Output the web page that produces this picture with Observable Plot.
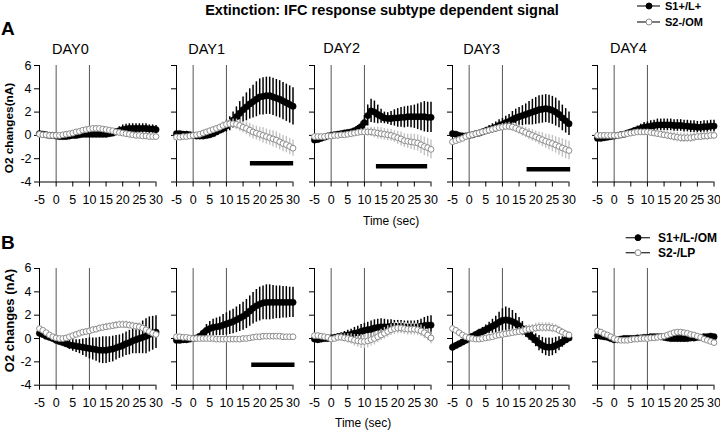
<!DOCTYPE html>
<html><head><meta charset="utf-8">
<script src="https://cdn.jsdelivr.net/npm/d3@7"></script>
<script src="https://cdn.jsdelivr.net/npm/@observablehq/plot@0.6"></script>
<style>
body{margin:0;background:#fff;}
#chart{position:relative;width:720px;height:431px;overflow:hidden;font-family:"Liberation Sans",Arial,sans-serif;background:#fff;}
#chart svg{position:absolute;}
</style></head><body><div id="chart"></div><script>
// ---------------- DATA ----------------
const title = "Extinction: IFC response subtype dependent signal";
const days = ["DAY0","DAY1","DAY2","DAY3","DAY4"];
const rowNames = ["A","B"];
const seriesA = ["S1+/L+","S2-/OM"];
const seriesB = ["S1+/L-/OM","S2-/LP"];
const yLabelA = "O2 changes(nA)";
const yLabelB = "O2 changes (nA)";
const xLabel = "Time (sec)";
const xTicks = [-5,0,5,10,15,20,25,30];
const yTicks = [-4,-2,0,2,4,6];
const eventLines = [0,10];
const time = [-5,-4,-3,-2,-1,0,1,2,3,4,5,6,7,8,9,10,11,12,13,14,15,16,17,18,19,20,21,22,23,24,25,26,27,28,29,30];

// Row A
const A_DAY0_S1     = [0.15,0.1,0.05,0,0, -0.05,-0.1,-0.1,-0.1,-0.05, 0,0,0.05,0.1,0.1, 0.1,0.1,0.1,0.1,0.1, 0.1,0.15,0.2,0.3,0.4, 0.5,0.55,0.6,0.6,0.6, 0.6,0.6,0.6,0.55,0.55, 0.5];
const A_DAY0_S1_err = [0.15,0.1,0.1,0.1,0.05, 0.05,0.05,0.05,0.05,0.05, 0.1,0.1,0.1,0.1,0.15, 0.15,0.15,0.15,0.15,0.15, 0.15,0.2,0.25,0.3,0.35, 0.4,0.4,0.4,0.4,0.4, 0.4,0.4,0.4,0.35,0.35, 0.35];
const A_DAY0_S2     = [0.1,0.05,0.05,0,0, 0,0,0.05,0.1,0.15, 0.2,0.3,0.35,0.45,0.5, 0.55,0.6,0.6,0.6,0.55, 0.5,0.45,0.4,0.3,0.25, 0.2,0.15,0.1,0.05,0, 0,-0.05,-0.05,-0.1,-0.1, -0.1];
const A_DAY0_S2_err = [0.1,0.1,0.1,0.1,0.1, 0.05,0.05,0.1,0.1,0.1, 0.1,0.1,0.15,0.15,0.15, 0.15,0.15,0.15,0.15,0.15, 0.15,0.15,0.15,0.15,0.15, 0.15,0.15,0.1,0.1,0.1, 0.1,0.1,0.1,0.1,0.1, 0.1];

const A_DAY1_S1     = [0.15,0.15,0.1,0.1,0.05, 0,-0.05,-0.05,-0.05,0, 0.05,0.15,0.3,0.45,0.6, 0.8,1.0,1.3,1.6,1.9, 2.2,2.45,2.7,2.9,3.1, 3.3,3.35,3.4,3.4,3.3, 3.2,3.1,2.95,2.8,2.65, 2.5];
const A_DAY1_S1_err = [0.1,0.1,0.1,0.1,0.1, 0.05,0.05,0.05,0.1,0.1, 0.15,0.2,0.25,0.3,0.4, 0.5,0.6,0.7,0.85,1.0, 1.1,1.2,1.3,1.4,1.5, 1.55,1.6,1.6,1.6,1.6, 1.6,1.6,1.6,1.6,1.6, 1.6];
const A_DAY1_S2     = [-0.15,-0.15,-0.1,-0.1,-0.05, 0,0.05,0.1,0.2,0.3, 0.4,0.5,0.6,0.7,0.85, 0.95,1.0,1.0,0.95,0.85, 0.7,0.6,0.45,0.3,0.2, 0.1,0,-0.1,-0.2,-0.3, -0.4,-0.55,-0.7,-0.8,-0.95, -1.1];
const A_DAY1_S2_err = [0.1,0.1,0.1,0.1,0.1, 0.1,0.1,0.1,0.1,0.1, 0.15,0.15,0.2,0.25,0.3, 0.3,0.35,0.4,0.45,0.5, 0.5,0.55,0.6,0.6,0.6, 0.6,0.65,0.65,0.65,0.7, 0.7,0.7,0.7,0.7,0.7, 0.7];

const A_DAY2_S1     = [-0.4,-0.35,-0.25,-0.15,-0.05, 0,0.05,0.1,0.15,0.2, 0.25,0.3,0.4,0.55,0.75, 1.1,1.7,2.1,2.0,1.8, 1.65,1.5,1.45,1.45,1.5, 1.5,1.55,1.55,1.6,1.6, 1.6,1.6,1.6,1.6,1.55, 1.55];
const A_DAY2_S1_err = [0.15,0.1,0.1,0.1,0.1, 0.1,0.1,0.1,0.1,0.1, 0.1,0.15,0.2,0.3,0.4, 0.6,0.9,1.0,0.95,0.8, 0.6,0.5,0.5,0.6,0.7, 0.8,0.85,0.9,0.9,0.95, 1.0,1.1,1.2,1.3,1.3, 1.3];
const A_DAY2_S2     = [-0.1,-0.1,-0.1,-0.1,-0.05, -0.05,0,0,0.05,0.05, 0.1,0.15,0.2,0.25,0.3, 0.3,0.3,0.3,0.25,0.2, 0.15,0.1,0.05,0,-0.1, -0.2,-0.3,-0.45,-0.5,-0.55, -0.6,-0.65,-0.8,-0.95,-1.05, -1.2];
const A_DAY2_S2_err = [0.1,0.1,0.1,0.1,0.1, 0.1,0.1,0.1,0.1,0.1, 0.1,0.15,0.15,0.2,0.25, 0.3,0.35,0.4,0.45,0.5, 0.5,0.5,0.5,0.5,0.5, 0.55,0.6,0.6,0.6,0.65, 0.7,0.7,0.75,0.8,0.8, 0.8];

const A_DAY3_S1     = [0.15,0.1,0,-0.05,-0.05, 0,0.05,0.15,0.2,0.3, 0.4,0.5,0.6,0.7,0.85, 0.95,1.1,1.2,1.35,1.5, 1.6,1.7,1.8,1.9,2.0, 2.1,2.2,2.25,2.3,2.25, 2.15,2.0,1.8,1.5,1.25, 1.0];
const A_DAY3_S1_err = [0.2,0.1,0.1,0.1,0.1, 0.1,0.1,0.15,0.2,0.25, 0.3,0.35,0.4,0.45,0.5, 0.5,0.55,0.6,0.7,0.75, 0.8,0.85,0.9,1.0,1.1, 1.15,1.2,1.2,1.2,1.2, 1.2,1.2,1.15,1.1,1.05, 1.0];
const A_DAY3_S2     = [-0.55,-0.45,-0.35,-0.25,-0.1, 0,0.07,0.15,0.22,0.3, 0.37,0.45,0.52,0.6,0.67, 0.72,0.77,0.78,0.72,0.62, 0.5,0.38,0.25,0.12,0, -0.12,-0.25,-0.37,-0.5,-0.6, -0.7,-0.82,-0.95,-1.08,-1.2, -1.3];
const A_DAY3_S2_err = [0.1,0.1,0.1,0.1,0.1, 0.1,0.1,0.1,0.1,0.1, 0.15,0.15,0.2,0.2,0.25, 0.3,0.3,0.35,0.35,0.4, 0.4,0.45,0.45,0.5,0.5, 0.5,0.55,0.6,0.6,0.65, 0.7,0.7,0.75,0.8,0.8, 0.8];

const A_DAY4_S1     = [-0.25,-0.25,-0.2,-0.15,-0.1, -0.05,0,0.05,0.1,0.2, 0.3,0.4,0.5,0.6,0.7, 0.75,0.8,0.85,0.9,0.9, 0.9,0.9,0.9,0.85,0.85, 0.85,0.8,0.8,0.75,0.75, 0.7,0.7,0.75,0.75,0.8, 0.8];
const A_DAY4_S1_err = [0.05,0.05,0.05,0.05,0.05, 0.05,0.05,0.1,0.1,0.15, 0.2,0.25,0.3,0.35,0.4, 0.4,0.45,0.45,0.5,0.5, 0.5,0.5,0.5,0.5,0.5, 0.5,0.5,0.5,0.5,0.5, 0.5,0.5,0.5,0.5,0.5, 0.5];
const A_DAY4_S2     = [0,0,0,0,0, 0,0,0.05,0.1,0.15, 0.2,0.25,0.3,0.3,0.3, 0.3,0.25,0.2,0.15,0.1, 0.05,0,-0.05,-0.1,-0.15, -0.2,-0.2,-0.2,-0.2,-0.15, -0.1,-0.1,-0.05,-0.05,0, 0];
const A_DAY4_S2_err = [0.1,0.1,0.1,0.1,0.1, 0.1,0.1,0.1,0.1,0.1, 0.1,0.15,0.15,0.2,0.2, 0.2,0.25,0.25,0.3,0.3, 0.3,0.35,0.35,0.4,0.4, 0.4,0.4,0.4,0.4,0.4, 0.35,0.35,0.35,0.35,0.35, 0.3];

// Row B
const B_DAY0_S1     = [0.45,0.35,0.2,0.1,0, -0.15,-0.25,-0.35,-0.45,-0.55, -0.6,-0.65,-0.7,-0.75,-0.8, -0.85,-0.9,-0.95,-1.0,-1.0, -1.0,-0.95,-0.9,-0.8,-0.7, -0.6,-0.45,-0.35,-0.2,-0.1, 0,0.1,0.2,0.35,0.45, 0.55];
const B_DAY0_S1_err = [0.1,0.1,0.1,0.1,0.1, 0.1,0.15,0.2,0.3,0.4, 0.5,0.55,0.6,0.7,0.8, 0.9,0.95,1.0,1.1,1.15, 1.15,1.1,1.1,1.05,1.0, 1.0,1.0,1.05,1.1,1.2, 1.3,1.4,1.5,1.5,1.45, 1.4];
const B_DAY0_S2     = [0.85,0.7,0.5,0.3,0.15, 0.05,0,0,0.05,0.15, 0.25,0.35,0.45,0.55,0.6, 0.65,0.75,0.8,0.9,0.95, 1.0,1.05,1.1,1.15,1.2, 1.2,1.2,1.15,1.1,1.05, 1.0,0.9,0.75,0.6,0.45, 0.35];
const B_DAY0_S2_err = [0.15,0.15,0.15,0.15,0.15, 0.1,0.1,0.1,0.15,0.15, 0.2,0.2,0.2,0.2,0.2, 0.2,0.25,0.25,0.25,0.3, 0.3,0.3,0.3,0.3,0.3, 0.3,0.3,0.3,0.3,0.3, 0.3,0.3,0.25,0.25,0.2, 0.2];

const B_DAY1_S1     = [-0.15,-0.15,-0.1,-0.1,-0.05, 0,0.05,0.2,0.45,0.7, 0.85,0.95,1.0,1.05,1.15, 1.25,1.35,1.45,1.6,1.75, 1.9,2.1,2.35,2.6,2.8, 2.95,3.05,3.1,3.1,3.1, 3.1,3.1,3.1,3.1,3.1, 3.1];
const B_DAY1_S1_err = [0.1,0.1,0.1,0.1,0.1, 0.05,0.1,0.2,0.3,0.5, 0.6,0.7,0.75,0.8,0.9, 0.95,1.0,1.05,1.1,1.15, 1.2,1.25,1.3,1.35,1.4, 1.45,1.45,1.5,1.5,1.45, 1.4,1.4,1.35,1.35,1.3, 1.3];
const B_DAY1_S2     = [0.15,0.15,0.1,0.1,0.05, 0,0,0,0,0, 0,0,-0.05,-0.05,-0.05, -0.05,-0.05,-0.05,-0.05,-0.05, 0,0,0.05,0.1,0.15, 0.15,0.2,0.2,0.2,0.2, 0.2,0.2,0.15,0.15,0.15, 0.15];
const B_DAY1_S2_err = [0.1,0.1,0.1,0.1,0.1, 0.1,0.1,0.1,0.1,0.1, 0.1,0.1,0.1,0.1,0.1, 0.1,0.1,0.1,0.1,0.1, 0.15,0.15,0.15,0.15,0.15, 0.15,0.15,0.15,0.15,0.15, 0.15,0.15,0.15,0.15,0.15, 0.15];

const B_DAY2_S1     = [-0.05,-0.1,-0.05,0,0, 0.05,0.1,0.15,0.2,0.25, 0.3,0.35,0.45,0.5,0.6, 0.7,0.75,0.8,0.9,0.95, 1.0,1.0,1.0,1.05,1.05, 1.05,1.05,1.0,1.0,1.0, 1.0,1.0,1.05,1.1,1.15, 1.15];
const B_DAY2_S1_err = [0.1,0.1,0.1,0.1,0.1, 0.15,0.2,0.25,0.3,0.35, 0.4,0.45,0.5,0.55,0.6, 0.6,0.65,0.7,0.7,0.7, 0.7,0.65,0.6,0.55,0.5, 0.5,0.5,0.5,0.5,0.5, 0.5,0.55,0.6,0.7,0.75, 0.8];
const B_DAY2_S2     = [0.25,0.25,0.2,0.15,0.1, -0.05,0,0.1,0.1,0.05, 0,-0.05,-0.15,-0.2,-0.25, -0.25,-0.2,-0.1,0,0.15, 0.3,0.45,0.6,0.75,0.85, 0.9,0.9,0.85,0.8,0.8, 0.8,0.75,0.65,0.5,0.3, 0.05];
const B_DAY2_S2_err = [0.2,0.2,0.2,0.2,0.2, 0.2,0.2,0.25,0.3,0.35, 0.4,0.45,0.5,0.55,0.6, 0.6,0.6,0.55,0.55,0.5, 0.5,0.5,0.5,0.5,0.5, 0.5,0.5,0.5,0.5,0.5, 0.5,0.5,0.5,0.5,0.5, 0.5];

const B_DAY3_S1     = [-0.75,-0.6,-0.45,-0.3,-0.15, 0.05,0.2,0.35,0.5,0.6, 0.75,0.9,1.05,1.2,1.4, 1.55,1.6,1.55,1.45,1.3, 1.1,0.85,0.6,0.35,0.1, -0.15,-0.4,-0.6,-0.72,-0.75, -0.72,-0.6,-0.45,-0.3,-0.12, 0.05];
const B_DAY3_S1_err = [0.3,0.25,0.2,0.15,0.1, 0.1,0.15,0.2,0.3,0.35, 0.4,0.5,0.6,0.7,0.85, 1.0,1.1,1.05,0.95,0.85, 0.7,0.6,0.5,0.5,0.5, 0.55,0.65,0.7,0.75,0.8, 0.75,0.7,0.6,0.45,0.3, 0.2];
const B_DAY3_S2     = [0.85,0.7,0.5,0.3,0.15, 0.05,0,-0.05,-0.05,0, 0.05,0.1,0.15,0.25,0.3, 0.35,0.4,0.45,0.5,0.55, 0.6,0.65,0.75,0.8,0.85, 0.9,0.95,0.95,0.95,0.95, 0.9,0.85,0.7,0.55,0.4, 0.3];
const B_DAY3_S2_err = [0.2,0.2,0.2,0.2,0.2, 0.1,0.1,0.1,0.1,0.1, 0.15,0.2,0.2,0.25,0.25, 0.3,0.3,0.3,0.3,0.3, 0.35,0.35,0.35,0.35,0.35, 0.4,0.4,0.4,0.4,0.4, 0.4,0.35,0.35,0.3,0.3, 0.3];

const B_DAY4_S1     = [0.25,0.2,0.15,0.1,0, -0.1,-0.1,-0.05,0,0, 0,0,0.05,0.05,0.1, 0.1,0.15,0.15,0.15,0.15, 0.1,0.05,0,0,0, 0,0,0,0.05,0.05, 0.1,0.1,0.15,0.15,0.2, 0.15];
const B_DAY4_S1_err = [0.1,0.1,0.1,0.1,0.1, 0.05,0.05,0.05,0.05,0.05, 0.05,0.05,0.1,0.1,0.1, 0.1,0.1,0.1,0.1,0.1, 0.15,0.2,0.25,0.25,0.3, 0.3,0.3,0.25,0.2,0.15, 0.1,0.1,0.1,0.1,0.1, 0.1];
const B_DAY4_S2     = [0.65,0.55,0.4,0.3,0.15, 0,-0.1,-0.15,-0.15,-0.15, -0.1,-0.05,-0.05,0,0, 0,0.05,0.05,0.1,0.15, 0.2,0.3,0.4,0.5,0.55, 0.55,0.5,0.45,0.35,0.3, 0.2,0.1,-0.05,-0.15,-0.25, -0.35];
const B_DAY4_S2_err = [0.1,0.1,0.1,0.1,0.1, 0.1,0.1,0.1,0.1,0.1, 0.1,0.1,0.1,0.1,0.1, 0.1,0.1,0.1,0.1,0.1, 0.2,0.2,0.2,0.2,0.2, 0.2,0.2,0.2,0.2,0.2, 0.15,0.15,0.15,0.15,0.15, 0.15];

// significance bars (time range and level)
const sigBars = [
  {row:"A", day:"DAY1", from:17.2, to:30.2, level:-2.4},
  {row:"A", day:"DAY2", from:13.6, to:29.0, level:-2.65},
  {row:"A", day:"DAY3", from:17.4, to:30.5, level:-2.9},
  {row:"B", day:"DAY1", from:17.6, to:30.6, level:-2.25}
];

const panelData = {
  A: [[A_DAY0_S1,A_DAY0_S1_err,A_DAY0_S2,A_DAY0_S2_err],[A_DAY1_S1,A_DAY1_S1_err,A_DAY1_S2,A_DAY1_S2_err],[A_DAY2_S1,A_DAY2_S1_err,A_DAY2_S2,A_DAY2_S2_err],[A_DAY3_S1,A_DAY3_S1_err,A_DAY3_S2,A_DAY3_S2_err],[A_DAY4_S1,A_DAY4_S1_err,A_DAY4_S2,A_DAY4_S2_err]],
  B: [[B_DAY0_S1,B_DAY0_S1_err,B_DAY0_S2,B_DAY0_S2_err],[B_DAY1_S1,B_DAY1_S1_err,B_DAY1_S2,B_DAY1_S2_err],[B_DAY2_S1,B_DAY2_S1_err,B_DAY2_S2,B_DAY2_S2_err],[B_DAY3_S1,B_DAY3_S1_err,B_DAY3_S2,B_DAY3_S2_err],[B_DAY4_S1,B_DAY4_S1_err,B_DAY4_S2,B_DAY4_S2_err]]
};

// ---------------- LAYOUT ----------------
const FONT = '"Liberation Sans", Arial, Helvetica, sans-serif';
const colAxisX = [39, 175.5, 314, 452, 596.5];   // pixel x of the y-axis in each column
const plotW = 116.5;
const rowLayout = {A: {top: 65, h: 116.5}, B: {top: 268, h: 116.7}};
const ML = 36, MR = 10, MT = 10, MB = 30;

const chart = document.getElementById("chart");

function makePanel(rowKey, col) {
  const [s1, s1e, s2, s2e] = panelData[rowKey][col];
  const rows = time.map((t, i) => ({t, m1: s1[i], e1: s1e[i], m2: s2[i], e2: s2e[i]}));
  const bars = sigBars.filter(b => b.row === rowKey && b.day === days[col]);
  const L = rowLayout[rowKey];
  const svg = Plot.plot({
    width: ML + plotW + MR,
    height: MT + L.h + MB,
    marginLeft: ML, marginRight: MR, marginTop: MT, marginBottom: MB,
    x: {domain: [-5, 30]},
    y: {domain: [-4, 6]},
    style: {background: "transparent", fontFamily: FONT, fontSize: "12.5px", color: "black", overflow: "visible"},
    marks: [
      Plot.ruleX(eventLines, {stroke: "#555", strokeWidth: 1}),
      Plot.axisX({ticks: xTicks, tickSize: 5, tickPadding: 8, tickFormat: d => String(d), label: null, stroke: "black"}),
      Plot.axisY({ticks: yTicks, tickSize: 5, tickPadding: 3, tickFormat: col === 0 ? (d => String(d)) : (() => ""), label: null, stroke: "black"}),
      Plot.ruleX([-5], {stroke: "black", strokeWidth: 1}),
      Plot.ruleY([-4], {stroke: "black", strokeWidth: 1}),
      Plot.ruleY(bars, {y: "level", x1: "from", x2: "to", stroke: "black", strokeWidth: 4.5}),
      Plot.ruleX(rows, {x: "t", y1: d => d.m1 - d.e1, y2: d => d.m1 + d.e1, stroke: "black", strokeWidth: 1.5}),
      Plot.dot(rows, {x: "t", y: "m1", r: 3.2, fill: "black", stroke: "black", strokeWidth: 0.5}),
      Plot.ruleX(rows, {x: "t", y1: d => d.m2 - d.e2, y2: d => d.m2 + d.e2, stroke: "#c2c2c2", strokeWidth: 1.4}),
      Plot.dot(rows, {x: "t", y: "m2", r: 2.9, fill: "white", stroke: "#8c8c8c", strokeWidth: 1})
    ]
  });
  svg.style.position = "absolute";
  svg.style.left = (colAxisX[col] - ML) + "px";
  svg.style.top = (L.top - MT) + "px";
  svg.style.maxWidth = "none";
  chart.appendChild(svg);
}

for (const r of rowNames) for (let c = 0; c < days.length; c++) makePanel(r, c);

// ---------------- TEXT OVERLAY ----------------
const ov = d3.select(chart).append("svg")
  .attr("width", 720).attr("height", 431)
  .style("left", "0px").style("top", "0px")
  .style("pointer-events", "none")
  .style("font-family", FONT);

function txt(x, y, s, o = {}) {
  const t = ov.append("text").attr("x", x).attr("y", y).text(s)
    .attr("font-size", o.size || 13)
    .attr("font-weight", o.bold ? "bold" : "normal")
    .attr("text-anchor", o.anchor || "start")
    .attr("dominant-baseline", o.baseline || "central")
    .attr("fill", "black");
  if (o.rotate) t.attr("transform", `rotate(-90 ${x} ${y})`);
  return t;
}

txt(382, 10, title, {size: 14.5, bold: true, anchor: "middle"});
txt(1, 35, rowNames[0], {size: 19, bold: true, baseline: "alphabetic"});
txt(1, 248.5, rowNames[1], {size: 19, bold: true, baseline: "alphabetic"});

const dayX = [52, 188.3, 323.3, 463.3, 610];
const dayY = [49, 49, 48, 49, 47.5];
days.forEach((d, i) => txt(dayX[i], dayY[i], d, {size: 14.5}));

txt(9, 128, yLabelA, {size: 11.8, bold: true, anchor: "middle", rotate: true});
txt(9, 320.5, yLabelB, {size: 13, bold: true, anchor: "middle", rotate: true});

txt(363, 221, xLabel, {size: 12});
txt(335, 423, xLabel, {size: 12});

function legend(names, ys, x1, x2, xd, xt, size) {
  names.forEach((n, i) => {
    ov.append("line").attr("x1", x1).attr("x2", x2).attr("y1", ys[i]).attr("y2", ys[i])
      .attr("stroke", "#333").attr("stroke-width", 1.3);
    ov.append("circle").attr("cx", xd).attr("cy", ys[i]).attr("r", 3)
      .attr("fill", i === 0 ? "black" : "white").attr("stroke", i === 0 ? "black" : "#8c8c8c");
    txt(xt, ys[i], n, {size, bold: true});
  });
}
legend(seriesA, [6, 22], 637, 660, 649, 665, 11);
legend(seriesB, [237.7, 252.7], 625.7, 650, 638, 658, 12);
</script></body></html>
